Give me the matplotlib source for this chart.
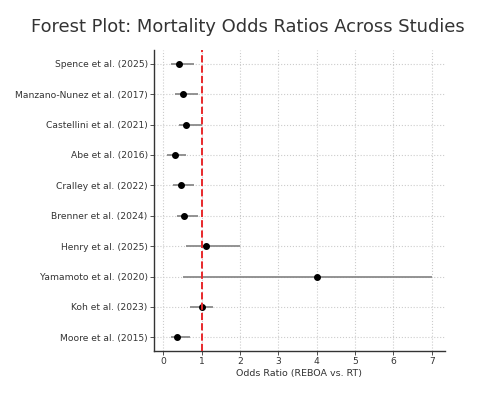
import matplotlib
matplotlib.use("Agg")
import matplotlib.pyplot as plt

studies = ["Spence et al. (2025)", "Manzano-Nunez et al. (2017)", "Castellini et al. (2021)",
           "Abe et al. (2016)", "Cralley et al. (2022)", "Brenner et al. (2024)",
           "Henry et al. (2025)", "Yamamoto et al. (2020)", "Koh et al. (2023)", "Moore et al. (2015)"]
odds = [0.4, 0.5, 0.6, 0.3, 0.45, 0.55, 1.1, 4.0, 1.0, 0.35]
lower = [0.2, 0.3, 0.4, 0.1, 0.25, 0.35, 0.6, 0.5, 0.7, 0.2]
upper = [0.8, 0.9, 1.0, 0.6, 0.8, 0.9, 2.0, 7.0, 1.3, 0.7]

fig = plt.figure(figsize=(4.79, 3.96), dpi=100)
ax = fig.add_axes([0.3215, 0.1136, 0.6075, 0.7601])

ypos = list(range(len(studies)))[::-1]
xerr = [[o - l for o, l in zip(odds, lower)], [u - o for o, u in zip(odds, upper)]]
ax.errorbar(odds, ypos, xerr=xerr, fmt='o', color='black', ecolor='#8a8a8a',
            elinewidth=1.3, markersize=4, capsize=0, zorder=3)
ax.axvline(1, color='#e8282b', linestyle='--', linewidth=1.4, zorder=4)

ax.set_yticks(ypos)
ax.set_yticklabels(studies)
ax.set_xticks(range(0, 8))
ax.tick_params(axis='both', labelsize=6.6, colors='#333333', length=3, width=0.6, pad=1.5)
ax.set_xlabel("Odds Ratio (REBOA vs. RT)", fontsize=6.8, color='#333333', labelpad=2)
ax.grid(True, linestyle=':', color='#cccccc', linewidth=0.8)
ax.set_axisbelow(True)
for s in ['top', 'right']:
    ax.spines[s].set_visible(False)
for s in ['left', 'bottom']:
    ax.spines[s].set_color('#333333')
    ax.spines[s].set_linewidth(1.0)

fig.text(248/479, 1 - 27/396, "Forest Plot: Mortality Odds Ratios Across Studies",
         ha='center', va='center', fontsize=12.9, color='#333333')

fig.savefig("out.png", dpi=100)
